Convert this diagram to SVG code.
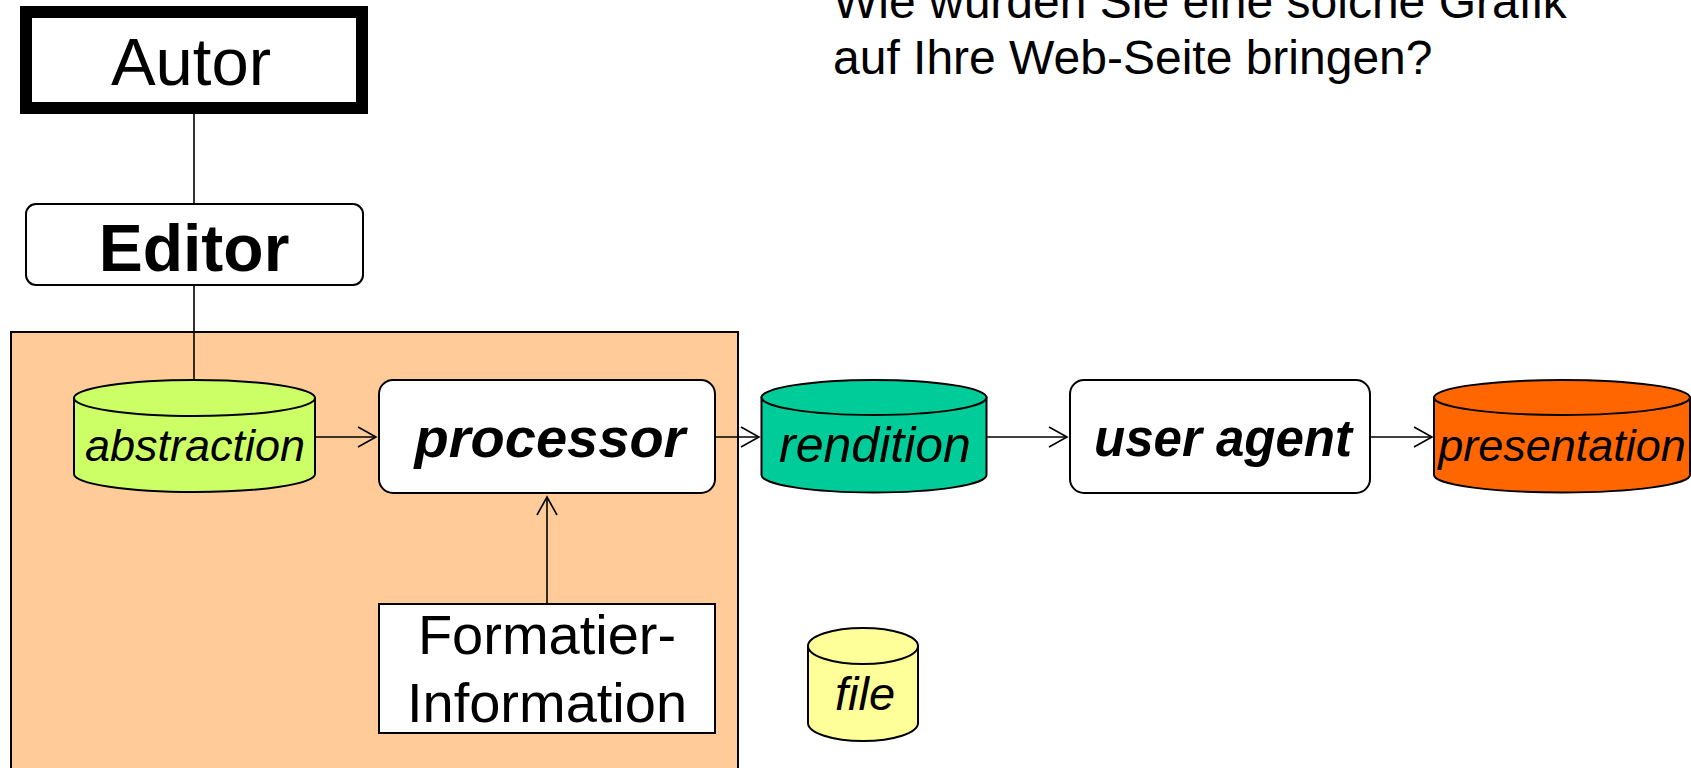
<svg xmlns="http://www.w3.org/2000/svg" width="1691" height="768" viewBox="0 0 1691 768">
<style>
text{font-family:"Liberation Sans",Arial,sans-serif;fill:#000;text-anchor:middle}
.it{font-style:italic}
.bi{font-style:italic;font-weight:bold}
.box{fill:#fff;stroke:#000;stroke-width:2}
.cyl{stroke:#000;stroke-width:2}
.con{stroke:#000;stroke-width:1.6;fill:none}
</style>
<defs>
<marker id="arr" markerUnits="userSpaceOnUse" viewBox="-20 -12 22 24" refX="0" refY="0" markerWidth="22" markerHeight="24" orient="auto">
<path d="M-18,-10 L0,0 L-18,10" fill="none" stroke="#000" stroke-width="1.6"/>
</marker>
</defs>
<rect id="container" x="11" y="332" width="727" height="450" fill="#FFCC99" stroke="#000" stroke-width="2"/>
<g id="title">
<text x="833" y="18" style="text-anchor:start" font-size="48">Wie würden Sie eine solche Grafik</text>
<text x="833" y="74" style="text-anchor:start" font-size="48">auf Ihre Web-Seite bringen?</text>
</g>
<g id="connectors">
<line class="con" x1="194" y1="114" x2="194" y2="204"/>
<line class="con" x1="194" y1="285" x2="194" y2="381"/>
<line class="con" x1="315" y1="437" x2="376" y2="437" marker-end="url(#arr)"/>
<line class="con" x1="715" y1="437" x2="759" y2="437" marker-end="url(#arr)"/>
<line class="con" x1="987" y1="437" x2="1067" y2="437" marker-end="url(#arr)"/>
<line class="con" x1="1370" y1="437" x2="1432" y2="437" marker-end="url(#arr)"/>
<line class="con" x1="547" y1="604" x2="547" y2="497" marker-end="url(#arr)"/>
</g>
<g id="autor">
<rect x="26" y="12" width="336" height="96" fill="#fff" stroke="#000" stroke-width="12"/>
<text x="191" y="85" font-size="67">Autor</text>
</g>
<g id="editor">
<rect class="box" x="26" y="204" width="337" height="81" rx="10"/>
<text x="194" y="271" font-size="66" font-weight="bold">Editor</text>
</g>
<g id="abstraction">
<path class="cyl" fill="#CCFF66" d="M74,398 L74,474 A120.5,18 0 0 0 315,474 L315,398 Z"/>
<ellipse class="cyl" fill="#CCFF66" cx="194.5" cy="398" rx="120.5" ry="18"/>
<text class="it" x="195" y="461" font-size="45">abstraction</text>
</g>
<g id="processor">
<rect class="box" x="379" y="380" width="336" height="113" rx="14"/>
<text class="bi" x="550" y="457" font-size="56">processor</text>
</g>
<g id="formatier">
<rect class="box" x="379" y="604" width="336" height="129"/>
<text x="547" y="654" font-size="56">Formatier-</text>
<text x="547" y="722" font-size="56">Information</text>
</g>
<g id="rendition">
<path class="cyl" fill="#00CC99" d="M761.5,397.5 L761.5,475 A112.5,17.5 0 0 0 986.5,475 L986.5,397.5 Z"/>
<ellipse class="cyl" fill="#00CC99" cx="874" cy="397.5" rx="112.5" ry="17.5"/>
<text class="it" x="875" y="462" font-size="50">rendition</text>
</g>
<g id="useragent">
<rect class="box" x="1070" y="380" width="300" height="113" rx="14"/>
<text class="bi" x="1223" y="456" font-size="51">user agent</text>
</g>
<g id="presentation">
<path class="cyl" fill="#FF6600" d="M1434,397.5 L1434,475 A128,17.5 0 0 0 1690,475 L1690,397.5 Z"/>
<ellipse class="cyl" fill="#FF6600" cx="1562" cy="397.5" rx="128" ry="17.5"/>
<text class="it" x="1562" y="461" font-size="45">presentation</text>
</g>
<g id="file">
<path class="cyl" fill="#FFFF99" d="M808,646 L808,723 A55,18 0 0 0 918,723 L918,646 Z"/>
<ellipse class="cyl" fill="#FFFF99" cx="863" cy="646" rx="55" ry="18"/>
<text class="it" x="865" y="710" font-size="47">file</text>
</g>
</svg>
